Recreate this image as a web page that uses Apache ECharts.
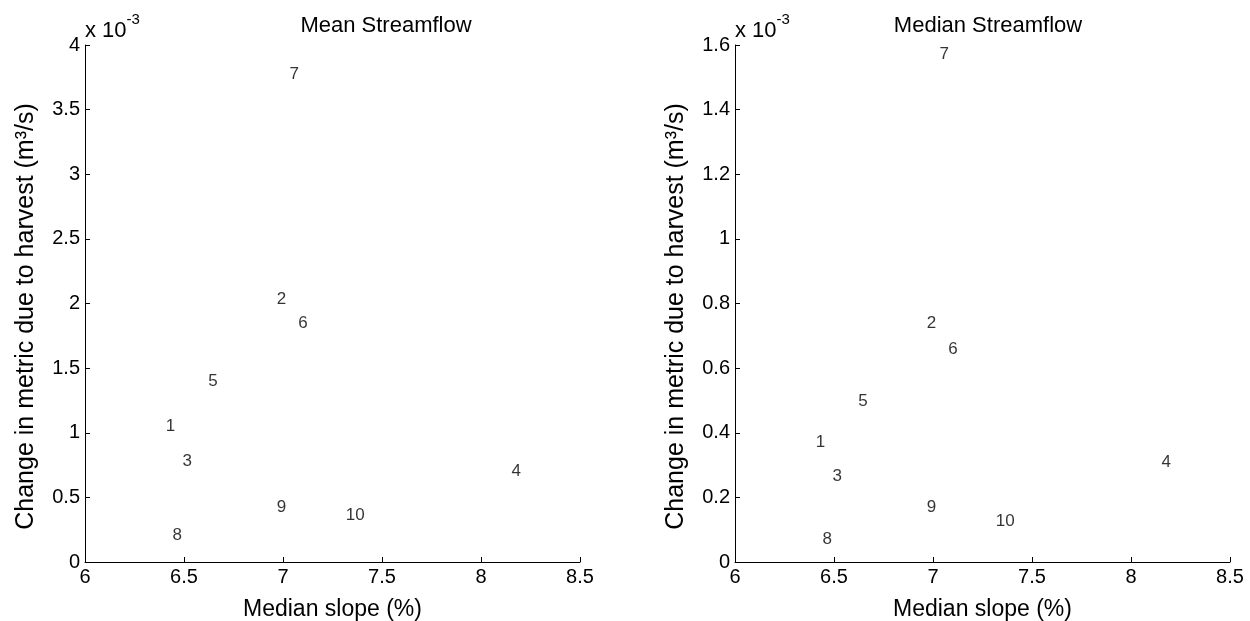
<!DOCTYPE html>
<html>
<head>
<meta charset="utf-8">
<script src="https://cdn.jsdelivr.net/npm/echarts@6/dist/echarts.min.js"></script>
<style>html,body{margin:0;padding:0;background:#fff;}#c{width:1250px;height:621px;}</style>
</head>
<body>
<div id="c"></div>
<script>
// Site labels
const siteLabels = ['1','2','3','4','5','6','7','8','9','10'];
// Median slope (%)
const medianSlope = [6.405, 6.966, 6.49, 8.152, 6.62, 7.075, 7.03, 6.44, 6.966, 7.315];
// Change in mean streamflow (x 10^-3 m3/s)
const meanChange = [1.05, 2.03, 0.78, 0.70, 1.40, 1.845, 3.77, 0.21, 0.42, 0.36];
// Change in median streamflow (x 10^-3 m3/s)
const medianChange = [0.37, 0.738, 0.266, 0.308, 0.496, 0.658, 1.57, 0.069, 0.168, 0.126];
const titles = ['Mean Streamflow', 'Median Streamflow'];

const FONT = 'Liberation Sans, Arial, sans-serif';
const chart = echarts.init(document.getElementById('c'));

function pts(ys) { return medianSlope.map((x, i) => [x, ys[i], siteLabels[i]]); }

const axisLine = { show: true, lineStyle: { color: '#000', width: 1 } };
const tick = { show: true, inside: true, length: 5, lineStyle: { color: '#000' } };
const tickLabel = { color: '#000', fontFamily: FONT, fontSize: 20, margin: 5 };

function xAxis(idx) {
  return {
    type: 'value', gridIndex: idx, min: 6, max: 8.5, interval: 0.5,
    axisLine, axisTick: tick, splitLine: { show: false },
    axisLabel: Object.assign({}, tickLabel, { formatter: v => String(v) }),
    name: 'Median slope (%)', nameLocation: 'middle', nameGap: 36,
    nameTextStyle: { color: '#000', fontFamily: FONT, fontSize: 23 }
  };
}
function yAxis(idx, max, interval) {
  return {
    type: 'value', gridIndex: idx, min: 0, max: max, interval: interval,
    axisLine, axisTick: tick, splitLine: { show: false },
    axisLabel: Object.assign({}, tickLabel, { formatter: v => String(+v.toFixed(2)) }),
    name: 'Change in metric due to harvest (m\u00B3/s)', nameLocation: 'middle', nameGap: 46,
    nameTextStyle: { color: '#000', fontFamily: FONT, fontSize: 25, padding: [0, 26, 0, 0] }
  };
}
function series(idx, ys) {
  return {
    type: 'scatter', xAxisIndex: idx, yAxisIndex: idx, data: pts(ys),
    symbolSize: 1, itemStyle: { color: 'rgba(0,0,0,0)' }, silent: true,
    label: { show: true, position: 'right', distance: 0, formatter: p => p.data[2],
      color: '#000', fontFamily: FONT, fontSize: 17 }
  };
}
function expo(left) {
  return { type: 'text', left: left, top: 12, style: { text: '{a|x 10}{b|-3}', rich: {
    a: { fontFamily: FONT, fontSize: 22, fill: '#000', verticalAlign: 'bottom', lineHeight: 30 },
    b: { fontFamily: FONT, fontSize: 15, fill: '#000', verticalAlign: 'top', lineHeight: 30 } } } };
}

chart.setOption({
  animation: false,
  backgroundColor: '#fff',
  title: [
    { text: titles[0], left: 381, top: 10, textAlign: 'center',
      textStyle: { color: '#000', fontFamily: FONT, fontSize: 22, fontWeight: 'normal' } },
    { text: titles[1], left: 983, top: 10, textAlign: 'center',
      textStyle: { color: '#000', fontFamily: FONT, fontSize: 22, fontWeight: 'normal' } }
  ],
  grid: [
    { left: 85, right: 670, top: 45, bottom: 59, outerBoundsMode: 'none', containLabel: false },
    { left: 735, right: 20, top: 45, bottom: 59, outerBoundsMode: 'none', containLabel: false }
  ],
  xAxis: [xAxis(0), xAxis(1)],
  yAxis: [yAxis(0, 4, 0.5), yAxis(1, 1.6, 0.2)],
  series: [series(0, meanChange), series(1, medianChange)],
  graphic: [expo(85), expo(735)]
});
</script>
</body>
</html>
